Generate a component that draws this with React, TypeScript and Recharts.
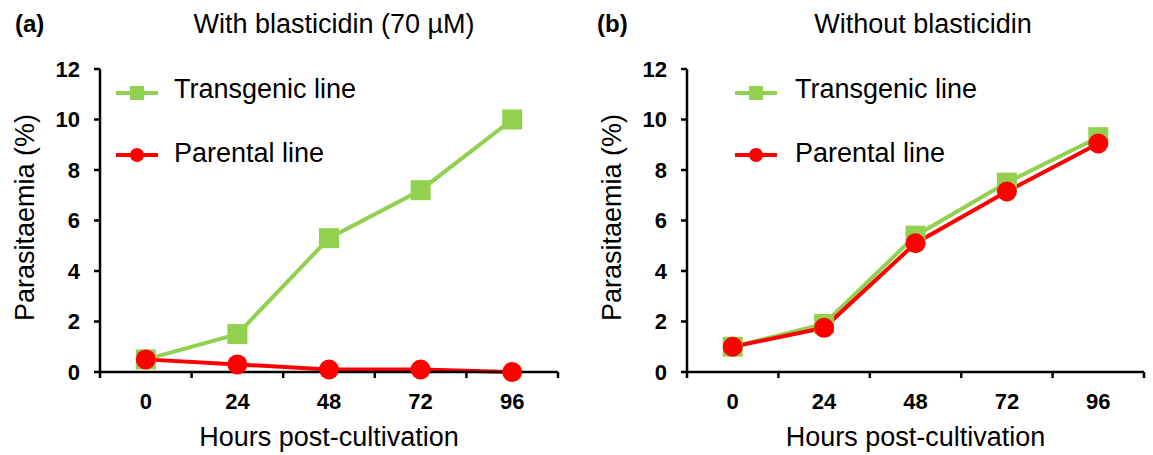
import React from 'react';
import { LineChart, Line, XAxis, YAxis, Legend } from 'recharts';

// ---- data ----
const HOURS = ['0', '24', '48', '72', '96'];
const Y_TICKS = [0, 2, 4, 6, 8, 10, 12];
const A_TRANSGENIC = [0.5, 1.5, 5.3, 7.2, 10.0];
const A_PARENTAL = [0.5, 0.3, 0.1, 0.1, 0.0];
const B_TRANSGENIC = [1.0, 1.9, 5.4, 7.5, 9.3];
const B_PARENTAL = [1.0, 1.75, 5.1, 7.15, 9.05];
const SERIES_NAMES = ['Transgenic line', 'Parental line'];

const GREEN = '#92D050';
const RED = '#FF0000';
const FONT = 'Arial, "Liberation Sans", Helvetica, sans-serif';
const TICK_SIZE = 6;
const X_TICK_MARGIN = 15;
const AXIS_W = 2.5;
const TICK_FONT = 22;

function buildData(trans: number[], par: number[]) {
  return HOURS.map((h, i) => ({ pos: i + 0.5, hour: h, transgenic: trans[i], parental: par[i] }));
}
const X_TICKS: number[] = [];
for (let i = 0; i <= HOURS.length * 2; i++) X_TICKS.push(i / 2);

const XTick = (props: any) => {
  const { x, y, payload } = props;
  const v = payload.value;
  if (Number.isInteger(v)) {
    const axisY = y - TICK_SIZE - X_TICK_MARGIN;
    return <line x1={x} x2={x} y1={axisY} y2={axisY + TICK_SIZE} stroke="#000" strokeWidth={AXIS_W} />;
  }
  return (
    <text x={x} y={y} dy="0.71em" textAnchor="middle" fontFamily={FONT} fontSize={TICK_FONT} fontWeight="bold" fill="#000">
      {HOURS[Math.floor(v)]}
    </text>
  );
};

const YLabel = (props: any) => {
  const vb = props.viewBox;
  const cx = vb.x + 25;
  const cy = vb.y + vb.height / 2 - 3;
  return (
    <text x={cx} y={cy} transform={`rotate(-90, ${cx}, ${cy})`} textAnchor="middle" dominantBaseline="central"
      fontFamily={FONT} fontSize={27} fill="#000">Parasitaemia (%)</text>
  );
};

const XLabel = (props: any) => {
  const vb = props.viewBox;
  return (
    <text x={vb.x + vb.width / 2} y={vb.y + vb.height - 9} textAnchor="middle" fontFamily={FONT} fontSize={27} fill="#000">
      Hours post-cultivation
    </text>
  );
};

const SquareDot = (props: any) => {
  const { cx, cy, index } = props;
  return <rect key={`sq-${index}`} x={cx - 10} y={cy - 10} width={20} height={20} fill={GREEN} />;
};

const LegendBox = ({ lineX, textX }: { lineX: number; textX: number }) => {
  const rows = [
    { name: SERIES_NAMES[0], color: GREEN, square: true, lineY: 93, base: 99 },
    { name: SERIES_NAMES[1], color: RED, square: false, lineY: 155, base: 163 },
  ];
  return (
    <div style={{ position: 'relative', width: 0, height: 0 }}>
      {rows.map((r) => (
        <React.Fragment key={r.name}>
          <svg width={42} height={20} style={{ position: 'absolute', left: lineX, top: r.lineY - 10, overflow: 'visible' }}>
            <line x1={0} x2={42} y1={10} y2={10} stroke={r.color} strokeWidth={4} />
            {r.square ? <rect x={14} y={3} width={14} height={14} fill={r.color} /> : <circle cx={21} cy={10} r={7} fill={r.color} />}
          </svg>
          <span style={{ position: 'absolute', left: textX, top: r.base - 22.8, fontFamily: FONT, fontSize: 27, lineHeight: '27px', whiteSpace: 'nowrap', color: '#000' }}>
            {r.name}
          </span>
        </React.Fragment>
      ))}
    </div>
  );
};

const Panel = ({ data, width, rightMargin, lineX, textX }: any) => (
  <LineChart width={width} height={455} data={data} margin={{ top: 69, right: rightMargin, bottom: 0, left: 0 }}>
    <XAxis dataKey="pos" type="number" domain={[0, HOURS.length]} ticks={X_TICKS} interval={0} allowDataOverflow
      tickLine={false} tickSize={TICK_SIZE} tickMargin={X_TICK_MARGIN} tick={<XTick />} height={83}
      axisLine={{ stroke: '#000', strokeWidth: AXIS_W }} label={<XLabel />} />
    <YAxis type="number" domain={[0, 12]} ticks={Y_TICKS} interval={0} width={100} tickSize={TICK_SIZE} tickMargin={14}
      tick={{ fontFamily: FONT, fontSize: TICK_FONT, fontWeight: 'bold', fill: '#000' }}
      tickLine={{ stroke: '#000', strokeWidth: AXIS_W }} axisLine={{ stroke: '#000', strokeWidth: AXIS_W }} label={<YLabel />} />
    <Legend layout="horizontal" verticalAlign="middle" align="center"
      wrapperStyle={{ left: 0, top: 0, width: 0, height: 0 }}
      content={() => <LegendBox lineX={lineX} textX={textX} />} />
    <Line dataKey="transgenic" name={SERIES_NAMES[0]} stroke={GREEN} strokeWidth={4} dot={<SquareDot />} activeDot={false} isAnimationActive={false} />
    <Line dataKey="parental" name={SERIES_NAMES[1]} stroke={RED} strokeWidth={4} dot={{ r: 10, fill: RED, stroke: 'none' }} activeDot={false} isAnimationActive={false} />
  </LineChart>
);

const Title = ({ tag, title, tagLeft, center }: any) => (
  <>
    <div style={{ position: 'absolute', left: tagLeft, top: 12, fontFamily: FONT, fontSize: 24, fontWeight: 'bold', lineHeight: '24px', color: '#000' }}>{tag}</div>
    <div style={{ position: 'absolute', left: center - 200, width: 400, textAlign: 'center', top: 11, fontFamily: FONT, fontSize: 27, lineHeight: '27px', color: '#000' }}>{title}</div>
  </>
);

export default function App() {
  return (
    <div style={{ position: 'absolute', left: 0, top: 0, width: 1153, height: 455, background: '#fff', overflow: 'hidden' }}>
      <Title tag="(a)" title="With blasticidin (70 µM)" tagLeft={15} center={334} />
      <Title tag="(b)" title="Without blasticidin" tagLeft={597} center={923} />
      <div style={{ position: 'absolute', left: 0, top: 0 }}>
        <Panel data={buildData(A_TRANSGENIC, A_PARENTAL)} width={580} rightMargin={22} lineX={116} textX={174} />
      </div>
      <div style={{ position: 'absolute', left: 587, top: 0 }}>
        <Panel data={buildData(B_TRANSGENIC, B_PARENTAL)} width={566} rightMargin={9} lineX={148} textX={208} />
      </div>
    </div>
  );
}
